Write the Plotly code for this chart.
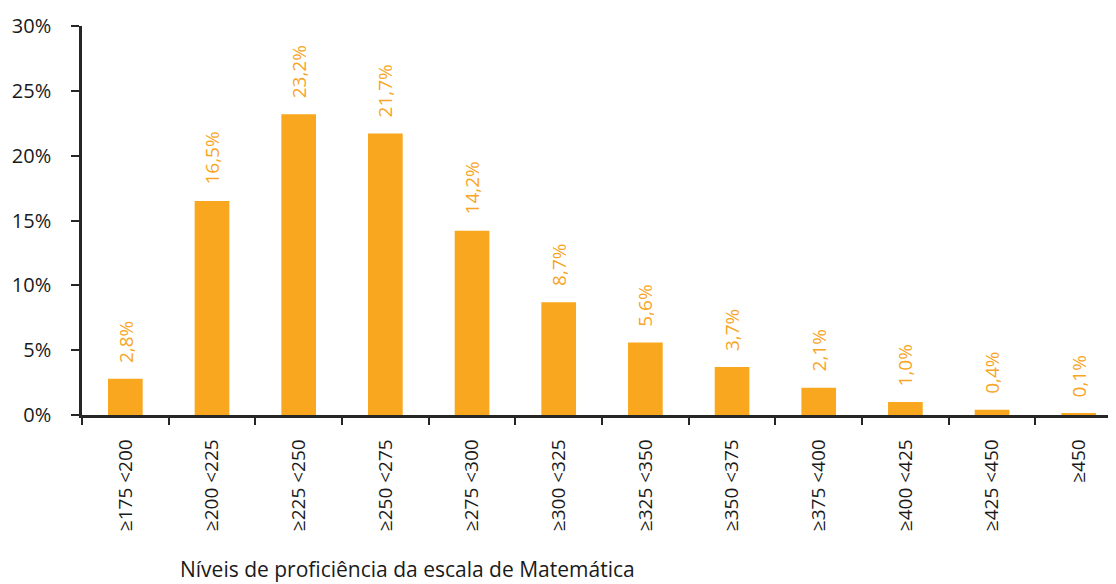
import plotly.graph_objects as go

categories = ["≥175 <200", "≥200 <225", "≥225 <250", "≥250 <275", "≥275 <300",
              "≥300 <325", "≥325 <350", "≥350 <375", "≥375 <400", "≥400 <425",
              "≥425 <450", "≥450"]
values = [2.8, 16.5, 23.2, 21.7, 14.2, 8.7, 5.6, 3.7, 2.1, 1.0, 0.4, 0.1]
y_ticks = [0, 5, 10, 15, 20, 25, 30]
y_tick_labels = ["0%", "5%", "10%", "15%", "20%", "25%", "30%"]
x_title = "Níveis de proficiência da escala de Matemática"

labels = [f"{v:.1f}".replace(".", ",") + "%" for v in values]

FONT = "Open Sans"
BAR = "#F9A71E"
LBL = "#F8A526"
AX = "#262626"
TXT = "#1a1a1a"

fig = go.Figure()
fig.add_trace(go.Bar(x=categories, y=values, marker_color=BAR, width=0.4,
                     marker_line_width=0, hoverinfo="skip"))

for c, v, t in zip(categories, values, labels):
    fig.add_annotation(x=c, y=v, text=t, textangle=-90, showarrow=False,
                       xanchor="center", yanchor="bottom", yshift=14,
                       font=dict(family=FONT, size=19, color=LBL))

fig.add_annotation(x=0.315, y=-0.395, xref="paper", yref="paper", yanchor="middle",
                   xanchor="center", text=x_title, showarrow=False,
                   font=dict(family=FONT, size=21, color=TXT))

fig.update_layout(
    width=1108, height=576,
    margin=dict(l=74, r=0, t=18, b=169),
    paper_bgcolor="white", plot_bgcolor="white",
    showlegend=False,
    font=dict(family=FONT, size=19, color=TXT),
)
fig.update_xaxes(type="category", range=[-0.5, 11.43], tickson="boundaries",
                 ticks="outside", ticklen=7, tickwidth=2, tickcolor=AX,
                 showline=True, linecolor=AX, linewidth=2.5, tickangle=-90,
                 showgrid=False, ticklabelstandoff=14,
                 tickfont=dict(family=FONT, size=19, color=TXT))
fig.update_yaxes(range=[0, 30], tickvals=y_ticks, ticktext=y_tick_labels,
                 ticks="outside", ticklen=8, tickwidth=2, tickcolor=AX,
                 showline=True, linecolor=AX, linewidth=2.5, showgrid=False,
                 zeroline=False, ticklabelstandoff=16,
                 tickfont=dict(family=FONT, size=20, color=TXT))

fig.write_html("out.html")
